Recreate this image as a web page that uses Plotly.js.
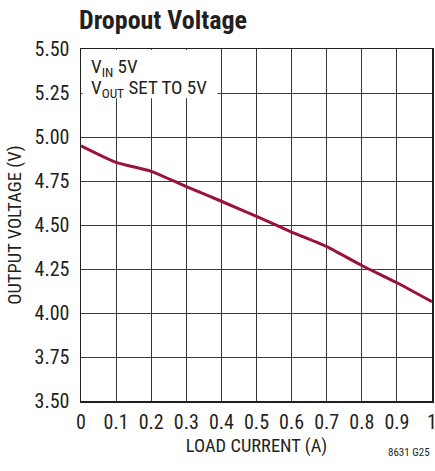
<!DOCTYPE html>
<html><head><meta charset="utf-8">
<script src="https://cdn.plot.ly/plotly-3.0.1.min.js"></script>
<style>body{margin:0;background:#fff}#c{width:435px;height:471px}</style>
</head><body><div id="c"></div>
<script>
const loadCurrent = [0, 0.1, 0.2, 0.3, 0.4, 0.5, 0.6, 0.7, 0.8, 0.9, 1.0];
const outputVoltage = [4.95, 4.856, 4.805, 4.718, 4.635, 4.549, 4.46, 4.377, 4.27, 4.172, 4.064];
const xTicks = [0, 0.1, 0.2, 0.3, 0.4, 0.5, 0.6, 0.7, 0.8, 0.9, 1];
const xTickLabels = ['0','0.1','0.2','0.3','0.4','0.5','0.6','0.7','0.8','0.9','1'];
const yTicks = [3.5, 3.75, 4.0, 4.25, 4.5, 4.75, 5.0, 5.25, 5.5];
const yTickLabels = ['3.50','3.75','4.00','4.25','4.50','4.75','5.00','5.25','5.50'];

const F = '"Liberation Sans Narrow", "Roboto Condensed", "Liberation Sans", Arial, sans-serif';
const txt = '#231f20';

Plotly.newPlot('c', [{
  x: loadCurrent, y: outputVoltage, type: 'scatter', mode: 'lines',
  line: {color: '#9b1238', width: 3, shape: 'spline', smoothing: 0.6},
  hoverinfo: 'skip'
}], {
  width: 435, height: 471,
  margin: {l: 81, r: 3, t: 49, b: 70},
  paper_bgcolor: '#fff', plot_bgcolor: '#fff',
  showlegend: false,
  font: {family: F, color: txt, size: 16},
  title: {text: '<b>Dropout Voltage</b>', font: {family: F, size: 26, color: txt},
          x: 79/435, xanchor: 'left', y: 1 - 20/471, yanchor: 'middle'},
  xaxis: {
    range: [0, 1], tickvals: xTicks, ticktext: xTickLabels,
    showgrid: true, gridcolor: '#3a3a3a', gridwidth: 1,
    zeroline: false, showline: true, linecolor: txt, linewidth: 1.5, mirror: true,
    ticks: '', ticklabeloverflow: 'allow', ticklabelstandoff: 2,
    tickfont: {family: F, size: 20, color: txt},
    title: {text: 'LOAD CURRENT (A)', font: {family: F, size: 18.5, color: txt}, standoff: 6}
  },
  yaxis: {
    range: [3.5, 5.5], tickvals: yTicks, ticktext: yTickLabels,
    showgrid: true, gridcolor: '#3a3a3a', gridwidth: 1,
    zeroline: false, showline: true, linecolor: txt, linewidth: 1.5, mirror: true,
    ticks: '', ticklabelstandoff: 6, tickfont: {family: F, size: 20, color: txt},
    title: {text: 'OUTPUT VOLTAGE (V)', font: {family: F, size: 18.5, color: txt}, standoff: 8}
  },
  shapes: [{
    type: 'rect', xref: 'x', yref: 'y', layer: 'above',
    x0: 0.004, x1: 0.389, y0: 5.22, y1: 5.495,
    fillcolor: '#fff', line: {width: 0}
  }],
  annotations: [
    {xref: 'paper', yref: 'paper', x: (89 - 81) / 351, y: (401 - 67) / 352,
     xanchor: 'left', yanchor: 'middle', showarrow: false,
     text: 'V<sub>IN</sub> 5V', font: {family: F, size: 19, color: txt}},
    {xref: 'paper', yref: 'paper', x: (89 - 81) / 351, y: (401 - 88) / 352,
     xanchor: 'left', yanchor: 'middle', showarrow: false,
     text: 'V<sub>OUT</sub> SET TO 5V', font: {family: F, size: 19, color: txt}},
    {xref: 'paper', yref: 'paper', x: 1, y: -(452 - 401) / 352,
     xanchor: 'right', yanchor: 'middle', showarrow: false,
     text: '8631 G25', font: {family: F, size: 11, color: txt}}
  ]
}, {staticPlot: true});
</script></body></html>
